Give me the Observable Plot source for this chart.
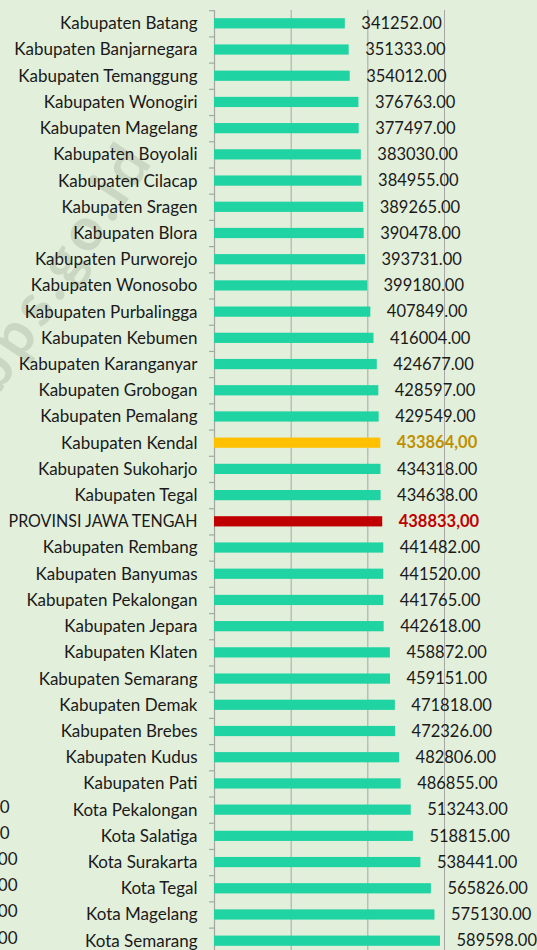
<!DOCTYPE html>
<html>
<head>
<meta charset="utf-8">
<script src="https://cdn.jsdelivr.net/npm/d3@7"></script>
<script src="https://cdn.jsdelivr.net/npm/@observablehq/plot@0.6"></script>
<style>
  html, body { margin: 0; padding: 0; background: #e2efda; overflow: hidden; width: 537px; height: 950px; }
  #wrap { position: relative; width: 537px; height: 950px; overflow: hidden; }
  #wm { position: absolute; left: -92px; top: 228px; width: 300px; height: 72px; line-height: 72px; text-align: center;
        transform: rotate(-56.5deg); transform-origin: 50% 50%; letter-spacing: 5px;
        font: bold 60px Lato, sans-serif; color: #cad7c2; white-space: nowrap; }
  #chart { position: absolute; left: 0; top: 0; }
  #chart svg { display: block; }
</style>
</head>
<body>
<div id="wrap">
  <div id="wm">bps.go.id</div>
  <div id="chart"></div>
</div>
<script>
// Categories (top to bottom) and values
const regions = [
  "Kabupaten Batang", "Kabupaten Banjarnegara", "Kabupaten Temanggung", "Kabupaten Wonogiri",
  "Kabupaten Magelang", "Kabupaten Boyolali", "Kabupaten Cilacap", "Kabupaten Sragen",
  "Kabupaten Blora", "Kabupaten Purworejo", "Kabupaten Wonosobo", "Kabupaten Purbalingga",
  "Kabupaten Kebumen", "Kabupaten Karanganyar", "Kabupaten Grobogan", "Kabupaten Pemalang",
  "Kabupaten Kendal", "Kabupaten Sukoharjo", "Kabupaten Tegal", "PROVINSI JAWA TENGAH",
  "Kabupaten Rembang", "Kabupaten Banyumas", "Kabupaten Pekalongan", "Kabupaten Jepara",
  "Kabupaten Klaten", "Kabupaten Semarang", "Kabupaten Demak", "Kabupaten Brebes",
  "Kabupaten Kudus", "Kabupaten Pati", "Kota Pekalongan", "Kota Salatiga",
  "Kota Surakarta", "Kota Tegal", "Kota Magelang", "Kota Semarang"
];
const values = [
  341252, 351333, 354012, 376763, 377497, 383030, 384955, 389265,
  390478, 393731, 399180, 407849, 416004, 424677, 428597, 429549,
  433864, 434318, 434638, 438833, 441482, 441520, 441765, 442618,
  458872, 459151, 471818, 472326, 482806, 486855, 513243, 518815,
  538441, 565826, 575130, 589598
];
const highlightKendal = "Kabupaten Kendal";
const highlightProv = "PROVINSI JAWA TENGAH";
const gridTicks = [200000, 400000, 600000];
// clipped fragments of a neighbouring chart at the left edge
const fragRows = ["Kota Pekalongan", "Kota Salatiga"];
const fragRows2 = ["Kota Surakarta", "Kota Tegal", "Kota Magelang", "Kota Semarang"];

const data = regions.map((name, i) => {
  const v = values[i];
  const hi = name === highlightKendal ? "kendal" : name === highlightProv ? "prov" : "none";
  return {
    name, v, hi,
    label: hi === "none" ? v.toFixed(2) : v.toFixed(2).replace(".", ",")
  };
});
const plain = data.filter(d => d.hi === "none");
const highlighted = data.filter(d => d.hi !== "none");

const barColor = d => d.hi === "kendal" ? "#ffc000" : d.hi === "prov" ? "#c00000" : "#20d3a2";
const textColor = d => d.hi === "kendal" ? "#bf8f00" : d.hi === "prov" ? "#c00000" : "#1a1a1a";

const chart = Plot.plot({
  width: 537,
  height: 950,
  marginLeft: 214,
  marginRight: 93,
  marginTop: 10,
  marginBottom: 0,
  style: { fontFamily: "Lato, sans-serif", fontSize: "17px", background: "transparent", color: "#1a1a1a" },
  x: { domain: [0, 600000], axis: null },
  y: { domain: regions, range: [10.2, 953.8], padding: 0, round: false, axis: null },
  marks: [
    Plot.ruleX(gridTicks, { stroke: "#a6a6a6", strokeWidth: 1 }),
    Plot.ruleX([0], { stroke: "#a6a6a6", strokeWidth: 1.2 }),
    Plot.axisY({ tickSize: 5, tickFormat: () => "", dy: -13.1, stroke: "#a6a6a6", strokeWidth: 1.2, label: null }),
    Plot.axisY({ tickSize: 0, tickPadding: 17, fontSize: 17, fill: "#1a1a1a", label: null }),
    Plot.barX(data, { y: "name", x: "v", fill: barColor, insetTop: 8, insetBottom: 8 }),
    Plot.text(plain, {
      y: "name", x: "v", text: "label", textAnchor: "start", dx: 16,
      fill: "#1a1a1a", fontSize: 16.5
    }),
    Plot.text(highlighted, {
      y: "name", x: "v", text: "label", textAnchor: "start", dx: 16,
      fill: textColor, fontSize: 16.5, fontWeight: "bold"
    }),
    Plot.text(fragRows, { y: d => d, text: () => "0", frameAnchor: "left", textAnchor: "end", dx: -205, dy: -3, fontSize: 17, fill: "#1a1a1a" }),
    Plot.text(fragRows2, { y: d => d, text: () => "00", frameAnchor: "left", textAnchor: "end", dx: -197, dy: -3, fontSize: 17, fill: "#1a1a1a" })
  ]
});
// narrow the long upper-case label to the width it occupies in the reference
d3.select(chart).selectAll("text").filter(function () { return this.textContent === highlightProv; })
  .attr("textLength", 189).attr("lengthAdjust", "spacingAndGlyphs");
document.getElementById("chart").appendChild(chart);
</script>
</body>
</html>
